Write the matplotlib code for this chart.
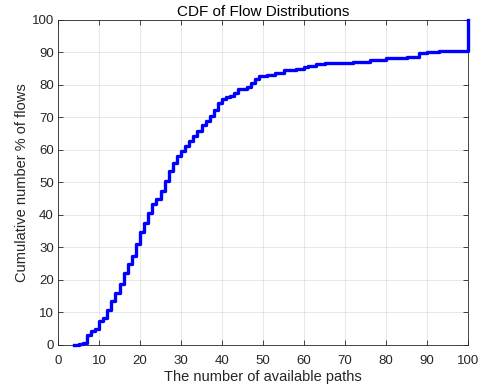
import numpy as np
import matplotlib
matplotlib.use('Agg')
import matplotlib.pyplot as plt

# number of available paths (step positions) and cumulative % of flows
paths = [4, 5, 6, 7, 8, 9, 10, 11, 12, 13, 14, 15, 16, 17, 18, 19, 20,
         21, 22, 23, 24, 25, 26, 27, 28, 29, 30, 31, 32, 33, 34, 35, 36,
         37, 38, 39, 40, 41, 42, 43, 44, 46, 47, 48, 49, 51, 53, 55, 58,
         60, 61, 63, 65, 72, 76, 80, 85, 88, 90, 93, 96, 100, 100]
cdf_pct = [0, 0.3, 0.7, 3.1, 4.3, 4.9, 7.2, 8.2, 10.6, 13.4, 15.9, 18.7,
           22.0, 24.9, 27.2, 31.1, 34.8, 37.4, 40.5, 43.4, 44.8, 47.5, 50.5,
           53.5, 56.1, 58.2, 59.8, 61.3, 62.7, 64.3, 65.9, 67.6, 69.0, 70.5,
           72.3, 74.5, 75.7, 76.2, 76.6, 77.6, 78.7, 79.3, 80.5, 81.8, 82.6,
           83.0, 83.6, 84.6, 84.9, 85.4, 85.9, 86.4, 86.8, 87.0, 87.8, 88.2,
           88.6, 89.7, 90.1, 90.3, 90.5, 90.9, 100]

xticks = np.arange(0, 101, 10)
yticks = np.arange(0, 101, 10)

plt.rcParams['font.family'] = ['Liberation Sans', 'DejaVu Sans']

fig = plt.figure(figsize=(4.84, 3.91), dpi=100)
ax = fig.add_axes([0.120, 0.118, 0.847, 0.831])

ax.plot(paths, cdf_pct, drawstyle='steps-post', color=(0, 0, 1), linewidth=2.4,
        clip_on=False, zorder=5)

ax.set_xlim(0, 100)
ax.set_ylim(0, 100)
ax.set_xticks(xticks)
ax.set_yticks(yticks)
ax.grid(True, color=(0.15, 0.15, 0.15), alpha=0.12, linewidth=0.6)
ax.set_axisbelow(True)

for s in ax.spines.values():
    s.set_color((0.15, 0.15, 0.15))
    s.set_linewidth(0.6)
ax.tick_params(direction='in', top=True, right=True, length=3.5, width=0.6,
               color=(0.15, 0.15, 0.15), labelsize=9.5, labelcolor=(0.15, 0.15, 0.15), pad=3)
ax.tick_params(axis='x', pad=7)

ax.set_title('CDF of Flow Distributions', fontsize=11, color='black', pad=3)
ax.set_xlabel('The number of available paths', fontsize=10.5, color=(0.15, 0.15, 0.15), labelpad=2.5)
ax.set_ylabel('Cumulative number % of flows', fontsize=10.5, color=(0.15, 0.15, 0.15), labelpad=2)

fig.savefig('out.png', dpi=100)
plt.close(fig)
